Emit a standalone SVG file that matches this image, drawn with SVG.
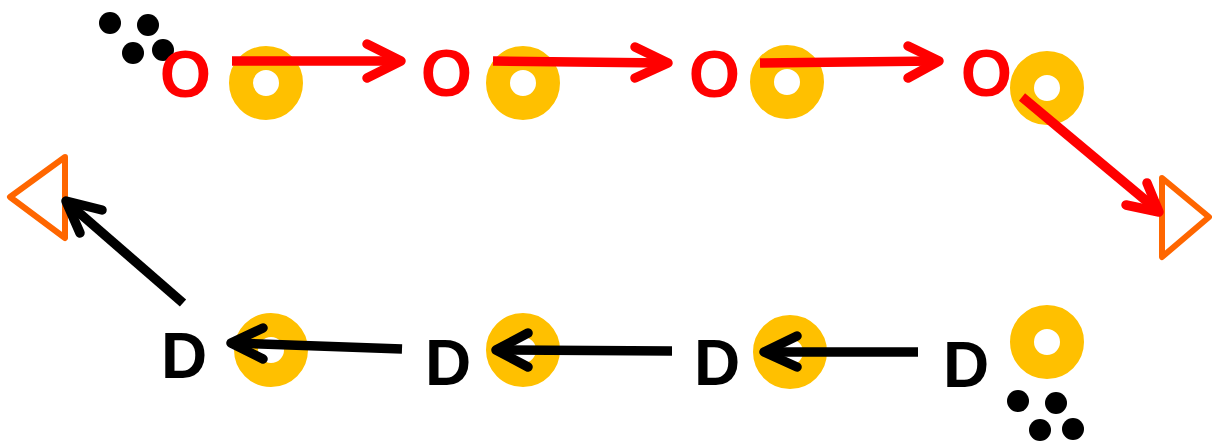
<svg xmlns="http://www.w3.org/2000/svg" width="1212" height="442" viewBox="0 0 1212 442">
<style>
.donut{fill:none;stroke:#FFC000;stroke-width:24}
.o{font-family:"Liberation Sans",Arial,sans-serif;font-weight:bold;font-size:66px;fill:#FF0000;text-anchor:middle}
.d{font-family:"Liberation Sans",Arial,sans-serif;font-weight:bold;font-size:64px;fill:#000000;text-anchor:middle}
.red{fill:none;stroke:#FF0000;stroke-width:9.5;stroke-linejoin:round}
.blk{fill:none;stroke:#000000;stroke-width:9.5;stroke-linejoin:round}
.head{stroke-linecap:round}
.tri{fill:none;stroke:#FF6600;stroke-width:6;stroke-linejoin:round}
.dot{fill:#000000}
</style>
<rect width="1212" height="442" fill="#FFFFFF"/>
<g id="dots-top"><circle class="dot" cx="110" cy="23" r="11"/><circle class="dot" cx="148" cy="25" r="11"/><circle class="dot" cx="133" cy="53" r="11"/><circle class="dot" cx="163" cy="50" r="11"/></g>
<g id="dots-bottom"><circle class="dot" cx="1018" cy="401" r="11"/><circle class="dot" cx="1056" cy="403" r="11"/><circle class="dot" cx="1040" cy="430" r="11"/><circle class="dot" cx="1073" cy="429" r="11"/></g>
<g id="node-o1"><circle class="donut" cx="266" cy="83" r="25"/><text class="o" x="185.5" y="97">O</text></g>
<g id="node-o2"><circle class="donut" cx="523" cy="83" r="25"/><text class="o" x="446.5" y="96">O</text></g>
<g id="node-o3"><circle class="donut" cx="787" cy="82" r="25"/><text class="o" x="714.5" y="97">O</text></g>
<g id="node-o4"><circle class="donut" cx="1047" cy="88" r="25"/><text class="o" x="986.5" y="96">O</text></g>
<g id="node-d1"><circle class="donut" cx="271" cy="350" r="25"/><text class="d" x="184" y="378">D</text></g>
<g id="node-d2"><circle class="donut" cx="523" cy="350" r="25"/><text class="d" x="448" y="385">D</text></g>
<g id="node-d3"><circle class="donut" cx="790" cy="352" r="25"/><text class="d" x="717" y="385">D</text></g>
<g id="node-d4"><circle class="donut" cx="1047" cy="342" r="25"/><text class="d" x="966" y="387">D</text></g>
<g id="end-right"><polygon class="tri" points="1162,178 1209,217 1162,257"/></g>
<g id="end-left"><polygon class="tri" points="65,157 10,197 65,238"/></g>
<g id="connectors">
<path class="red" d="M232,61 L398,61"/><path class="red head" d="M367,44 L401,61 L367,78"/>
<path class="red" d="M493,61 L665,63"/><path class="red head" d="M635,47 L668,63 L635,78"/>
<path class="red" d="M760,63 L936,61"/><path class="red head" d="M908,46 L939,61 L908,78"/>
<path class="red" d="M1022,97 L1156,209"/><path class="red head" d="M1147,183 L1159,212 L1126,205"/>
<path class="blk" d="M918,352 L767,352"/><path class="blk head" d="M797,336 L764,352 L797,367"/>
<path class="blk" d="M672,351 L499,350"/><path class="blk head" d="M528,333 L496,350 L528,367"/>
<path class="blk" d="M402,349 L234,343"/><path class="blk head" d="M263,328 L231,343 L263,359"/>
<path class="blk" d="M183,303 L69,204"/><path class="blk head" d="M102,210 L66,201 L80,233"/>
</g>
</svg>
